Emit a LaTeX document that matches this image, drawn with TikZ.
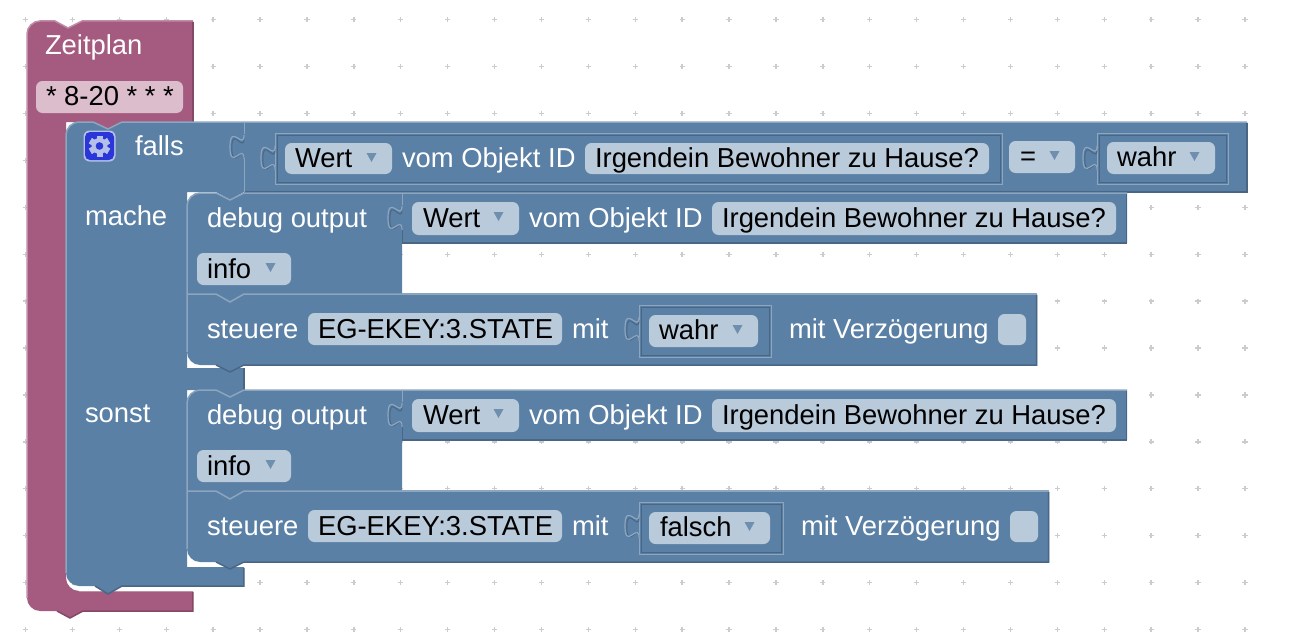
\documentclass[tikz,border=0pt]{standalone}
\usepackage{fontspec}
\setmainfont{Liberation Sans}
\definecolor{blk}{HTML}{5B80A5}
\definecolor{blkL}{HTML}{8CA6C0}
\definecolor{blkD}{HTML}{496684}
\definecolor{pnk}{HTML}{A55B80}
\definecolor{pnkL}{HTML}{C08CA6}
\definecolor{pnkD}{HTML}{844966}
\definecolor{fldB}{HTML}{B9CADB}
\definecolor{fldP}{HTML}{DBBDCC}
\definecolor{trif}{HTML}{6F8FAE}
\definecolor{dotc}{HTML}{CCCCCC}
\definecolor{gearbg}{HTML}{2A36D8}
\definecolor{gearfg}{HTML}{B4C0EA}
\tikzset{
  lab/.style={anchor=base west,inner sep=0pt,outer sep=0pt,text=white,font=\fontsize{27.4}{30}\selectfont},
  ftx/.style={lab,text=black},
  hl/.style={draw=blkL,line width=1.5pt},
  sh/.style={draw=blkD,line width=1.5pt},
  phl/.style={draw=pnkL,line width=1.5pt},
  psh/.style={draw=pnkD,line width=1.5pt}
}
\newcommand{\fldbox}[4]{\fill[fldB,rounded corners=6.5pt] (#1,#2) rectangle (#3,#4);}
\newcommand{\triang}[2]{\fill[trif] (#1-5,#2) -- (#1+5,#2) -- (#1,#2+9) -- cycle;}
\newcommand{\dropfld}[4]{\fldbox{#1}{#2}{#3}{#4}\triang{#3-20.5}{#2+10}}
\newcommand{\tabshape}[2]{% X, top Y
  \draw[blkD,line width=1pt] (#1,#2+4) .. controls (#1,#2+20) and (#1-12.2,#2-9) .. (#1-12.2,#2+14) .. controls (#1-12.2,#2+38) and (#1,#2+9) .. (#1,#2+25);
  \draw[blkL,line width=1.2pt] (#1,#2+1) .. controls (#1,#2+17) and (#1-14,#2-12) .. (#1-14,#2+13) .. controls (#1-14,#2+38) and (#1,#2+8) .. (#1,#2+25);
}
\newcommand{\insetbox}[4]{%
  \draw[blkL,line width=1pt] (#1,#2) rectangle (#3,#4);
  \draw[blkD,line width=1pt] (#1+2,#2+2) rectangle (#3-2,#4-2);
}
\newcommand{\stack}[2]{%
  \fill[blk] (187,206+#1) .. controls (187,199+#1) and (193,193+#1) .. (200,193+#1) -- (216,193+#1) -- (230,200+#1) -- (244,193+#1) -- (1127,193+#1) -- (1127,243+#1) -- (402,243+#1) -- (402,294+#1) -- (#2,294+#1) -- (#2,365+#1) -- (244,365+#1) -- (230,372+#1) -- (216,365+#1) -- (200,365+#1) .. controls (193,365+#1) and (187,359+#1) .. (187,352+#1) -- cycle;
  \draw[hl] (187,352+#1) -- (187,206+#1) .. controls (187,199+#1) and (193,193+#1) .. (200,193+#1) -- (216,193+#1) -- (230,200+#1) -- (244,193+#1) -- (1127,193+#1);
  \draw[hl] (402,294+#1) -- (#2,294+#1);
  \draw[hl] (187,294+#1) -- (216,294+#1) -- (230,302+#1) -- (244,294+#1) -- (402,294+#1);
  \draw[sh] (1126.5,194+#1) -- (1126.5,243+#1) -- (402,243+#1);
  \draw[sh] (#2-.5,295+#1) -- (#2-.5,365+#1) -- (244,365+#1) -- (230,372+#1) -- (216,365+#1);
  \draw[blkD,line width=.8pt] (402,230+#1) -- (402,243+#1);
  \draw[hl,line width=1pt] (402,193+#1) -- (402,205+#1);
  \tabshape{402}{205+#1}
  \dropfld{197}{253+#1}{291}{285+#1}
  \fldbox{308}{313+#1}{562}{345+#1}
}
\begin{document}
\begin{tikzpicture}[x=1pt,y=-1pt]
\useasboundingbox (0,0) rectangle (1289,642);
\fill[white] (0,0) rectangle (1289,642);
\foreach \i in {0,...,26}{\foreach \j in {0,...,13}{
  \pgfmathsetmacro{\gx}{25.5+46.9*\i}\pgfmathsetmacro{\gy}{19.7+46.9*\j}
  \draw[dotc,line width=1.4pt] (\gx-2.6,\gy) -- (\gx+2.6,\gy) (\gx,\gy-2.6) -- (\gx,\gy+2.6);
}}
% pink block
\fill[pnk] (27,34) .. controls (27,27) and (33,21) .. (40,21) -- (55,21) -- (68,28) -- (82,21) -- (193,21) -- (193,122) -- (122,122) -- (108,130) -- (93,122) -- (66,122) -- (66,578) .. controls (66,585) and (72,591) .. (79,591) -- (193,591) -- (193,611) -- (83,611) -- (70,618) -- (57,611) -- (40,611) .. controls (33,611) and (27,605) .. (27,598) -- cycle;
\draw[phl] (27,598) -- (27,34) .. controls (27,27) and (33,21) .. (40,21) -- (55,21) -- (68,28) -- (82,21) -- (193,21);
\draw[phl] (79,591.7) -- (193,591.7);
\draw[psh] (192.8,22) -- (192.8,122);
\draw[psh] (192.8,592) -- (192.8,611) -- (83,611) -- (70,618) -- (57,611);
% falls block (C shape)
\fill[blk] (66,135) .. controls (66,128) and (72,122) .. (79,122) -- (93,122) -- (108,129) -- (122,122) -- (1247,122) -- (1247,192) -- (244,192) -- (230,200) -- (216,192) -- (187,192) -- (187,368) -- (244,368) -- (244,390) -- (230,398) -- (216,390) -- (187,390) -- (187,567) -- (244,567) -- (244,586) -- (122,586) -- (108,594) -- (95,586) -- (79,586) .. controls (72,586) and (66,580) .. (66,573) -- cycle;
\draw[hl] (66,573) -- (66,135) .. controls (66,128) and (72,122) .. (79,122) -- (93,122) -- (108,129) -- (122,122) -- (1247,122);
\draw[sh] (1246.8,123) -- (1246.8,192) -- (244,192);
\draw[sh] (243.8,568) -- (243.8,586) -- (122,586) -- (108,594) -- (95,586);
\draw[sh] (243.8,368) -- (243.8,390);
\draw[hl,line width=1pt] (244,122) -- (244,134) (244,158) -- (244,192);
% first row
\tabshape{244}{134}
\insetbox{275}{133}{1002}{184}
\tabshape{275}{145}
\dropfld{285}{143}{392}{174}
\fldbox{585}{143}{989}{174}
\dropfld{1009}{141}{1075}{173}
\insetbox{1097}{133}{1228}{184}
\tabshape{1097}{145}
\dropfld{1107}{142}{1215}{174}
% gear icon
\fill[gearfg,rounded corners=6pt] (83.5,130.5) rectangle (115.5,161.5);
\fill[gearbg,rounded corners=5pt] (85,132) rectangle (114,160);
\foreach \a in {0,60,120,180,240,300}{
  \fill[gearfg,rotate around={\a:(99.5,146)}] (96.5,135.5) rectangle (102.5,156.5);
}
\fill[gearfg] (99.5,146) circle (8);
\fill[gearbg] (99.5,146) circle (3.8);
% stacks
\stack{0}{1037}
\stack{197}{1049}
\insetbox{639}{305}{771}{357}
\tabshape{639}{316}
\dropfld{649}{315}{758}{347}
\fldbox{998}{314}{1026}{345}
\insetbox{639}{502}{783}{554}
\tabshape{639}{513}
\dropfld{649}{512}{770}{544}
\fldbox{1010}{511}{1038}{542}
\dropfld{412}{202}{519}{235}
\fldbox{712}{202}{1116}{235}
\dropfld{412}{399}{519}{432}
\fldbox{712}{399}{1116}{432}
\fill[fldP,rounded corners=6.5pt] (36,81) rectangle (183,113);
% texts
\node[lab] (zeit) at (45,55) {Zeitplan};
\node[ftx] (cron) at (46,105) {* 8-20 * * *};
\node[lab] (falls) at (135,155) {falls};
\node[ftx] (w0) at (295,167) {Wert};
\node[lab] (v0) at (402,167) {vom Objekt ID};
\node[ftx] (i0) at (595,167) {Irgendein Bewohner zu Hause?};
\node[ftx] (eq) at (1020,165) {=};
\node[ftx] (wr0) at (1117,166) {wahr};
\node[lab] (mache) at (85,225) {mache};
\node[lab] (d1) at (207,227) {debug output};
\node[ftx] (w1) at (423,227) {Wert};
\node[lab] (v1) at (529,227) {vom Objekt ID};
\node[ftx] (i1) at (722,227) {Irgendein Bewohner zu Hause?};
\node[ftx] (info1) at (207,278) {info};
\node[lab] (s1) at (207,338) {steuere};
\node[ftx] (eg1) at (318,338) {EG-EKEY:3.STATE};
\node[lab] (m1) at (572,338) {mit};
\node[ftx] (wr1) at (659,339) {wahr};
\node[lab] (mv1) at (789,338) {mit Verzögerung};
\node[lab] (sonst) at (85,422) {sonst};
\node[lab] (d2) at (207,424) {debug output};
\node[ftx] (w2) at (423,424) {Wert};
\node[lab] (v2) at (529,424) {vom Objekt ID};
\node[ftx] (i2) at (722,424) {Irgendein Bewohner zu Hause?};
\node[ftx] (info2) at (207,475) {info};
\node[lab] (s2) at (207,535) {steuere};
\node[ftx] (eg2) at (318,535) {EG-EKEY:3.STATE};
\node[lab] (m2) at (572,535) {mit};
\node[ftx] (fa) at (660,536) {falsch};
\node[lab] (mv2) at (801,535) {mit Verzögerung};
\end{tikzpicture}
\end{document}
